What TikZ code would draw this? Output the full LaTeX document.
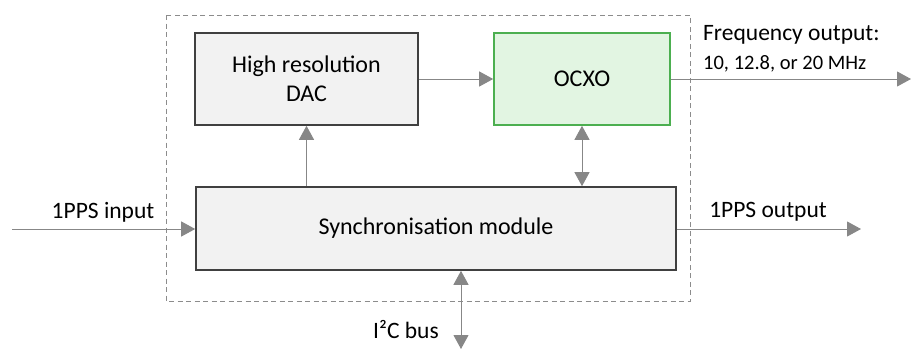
\documentclass[tikz,border=0pt]{standalone}
\usepackage{fontspec}
\setmainfont{Carlito}
\usetikzlibrary{arrows.meta}
\definecolor{boxfill}{HTML}{F2F2F2}
\definecolor{boxline}{HTML}{404040}
\definecolor{ocxofill}{HTML}{E2F5E2}
\definecolor{ocxoline}{HTML}{4CAF50}
\definecolor{arrowgray}{HTML}{878787}
\definecolor{dashgray}{HTML}{8C8C8C}
\tikzset{
  block/.style={draw=boxline, fill=boxfill, line width=1.6pt, inner sep=0pt, align=center, font=\fontsize{24}{30}\selectfont},
  greenblock/.style={block, draw=ocxoline, fill=ocxofill},
  conn/.style={draw=arrowgray, line width=1.0pt, -{Triangle[length=14pt,width=15pt]}},
  biconn/.style={draw=arrowgray, line width=1.0pt, {Triangle[length=14pt,width=15pt]}-{Triangle[length=14pt,width=15pt]}},
  lbl/.style={inner sep=0pt, font=\fontsize{23.5}{28}\selectfont},
  frame/.style={draw=dashgray, line width=0.9pt, dash pattern=on 5pt off 3.5pt}
}
\begin{document}
\begin{tikzpicture}[x=1pt,y=-1pt]
\useasboundingbox (0,0) rectangle (911,349);
\draw[frame] (166,15) rectangle (690,301);
\node[block, minimum width=223pt, minimum height=92pt] (dac) at (306.5,79) {High resolution\\[-1pt]DAC};
\node[greenblock, minimum width=176pt, minimum height=92pt] (ocxo) at (582,79) {OCXO};
\node[block, minimum width=480pt, minimum height=83pt] (sync) at (436,228.5) {Synchronisation module};
\coordinate (inL) at (12,229);
\coordinate (outR) at (861,229);
\coordinate (freqR) at (911,79);
\coordinate (busB) at (461,349);
\draw[conn] (inL) -- (sync.west |- inL);
\draw[conn] (sync.east |- outR) -- (outR);
\draw[conn] (dac.east |- ocxo.west) -- (ocxo.west);
\draw[conn] (ocxo.east) -- (freqR);
\draw[conn] (sync.north -| dac.south) -- (dac.south);
\draw[biconn] (ocxo.south) -- (sync.north -| ocxo.south);
\draw[biconn] (sync.south -| busB) -- (busB);
\node[lbl] (inlbl) at (103,212) {1PPS input};
\node[lbl] (outlbl) at (768,212) {1PPS output};
\node[lbl] (buslbl) at (406,330) {I²C bus};
\node[lbl, anchor=west] (freq1) at (703,35) {Frequency output:};
\node[lbl, anchor=west, font=\fontsize{20.5}{24}\selectfont] (freq2) at (703,64) {10, 12.8, or 20 MHz};
\end{tikzpicture}
\end{document}
